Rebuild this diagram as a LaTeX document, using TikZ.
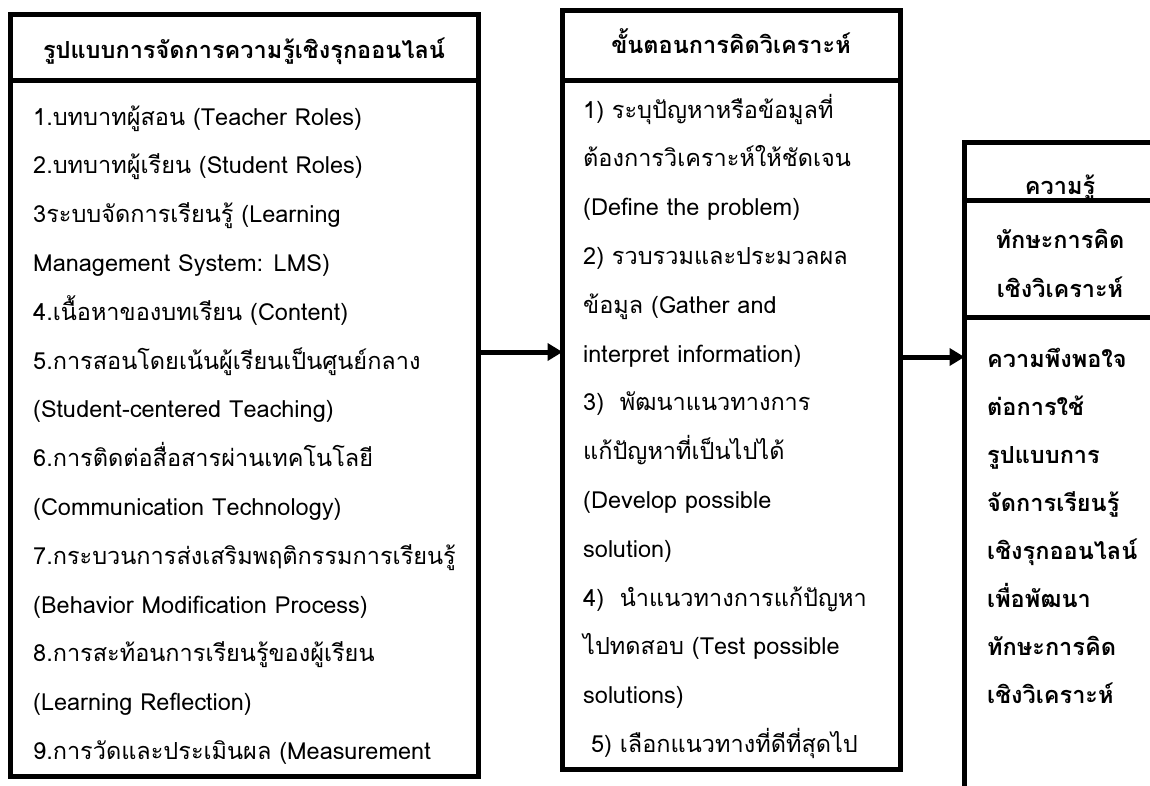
\documentclass[tikz,border=0pt]{standalone}
\usepackage{fontspec}
\setmainfont[Script=Thai]{Loma}
\usetikzlibrary{arrows.meta}

\begin{document}
\begin{tikzpicture}[x=1pt,y=-1pt,
    frame/.style={draw,line width=5pt,inner sep=0pt,outer sep=0pt,anchor=north west},
    txt/.style={anchor=base west,inner sep=0pt,font=\fontsize{23.5}{28}\selectfont},
    hd/.style={anchor=base,inner sep=0pt,font=\fontsize{23.5}{28}\selectfont\bfseries},
    arr/.style={line width=5pt,-{Triangle[length=15pt,width=17pt]}}]
  \useasboundingbox (0,0) rectangle (1150,785);

  % left box
  \node[frame,minimum width=468pt,minimum height=66pt] (lhead) at (10,14.5) {};
  \node[frame,minimum width=468pt,minimum height=696pt] (lbody) at (10,80.5) {};
  \node[hd] (ltitle) at (244,58) {รูปแบบการจัดการความรู้เชิงรุกออนไลน์};
  \foreach \t [count=\i from 0] in {
      {1.บทบาทผู้สอน (Teacher Roles)},
      {2.บทบาทผู้เรียน (Student Roles)},
      {3ระบบจัดการเรียนรู้ (Learning},
      {Management System: LMS)},
      {4.เนื้อหาของบทเรียน (Content)},
      {5.การสอนโดยเน้นผู้เรียนเป็นศูนย์กลาง},
      {(Student-centered Teaching)},
      {6.การติดต่อสื่อสารผ่านเทคโนโลยี},
      {(Communication Technology)},
      {7.กระบวนการส่งเสริมพฤติกรรมการเรียนรู้},
      {(Behavior Modification Process)},
      {8.การสะท้อนการเรียนรู้ของผู้เรียน},
      {(Learning Reflection)},
      {9.การวัดและประเมินผล (Measurement}}{
    \node[txt] (l\i) at (33,125+48.8*\i) {\t};
  }

  % middle box
  \node[frame,minimum width=337.5pt,minimum height=70pt] (mhead) at (562.5,10) {};
  \node[frame,minimum width=337.5pt,minimum height=689pt] (mbody) at (562.5,80) {};
  \node[hd] (mtitle) at (731,53) {ขั้นตอนการคิดวิเคราะห์};
  \foreach \t [count=\i from 0] in {
      {1) ระบุปัญหาหรือข้อมูลที่},
      {ต้องการวิเคราะห์ให้ชัดเจน},
      {(Define the problem)},
      {2) รวบรวมและประมวลผล},
      {ข้อมูล (Gather and},
      {interpret information)},
      {3)~~พัฒนาแนวทางการ},
      {แก้ปัญหาที่เป็นไปได้},
      {(Develop possible},
      {solution)},
      {4)~~นำแนวทางการแก้ปัญหา},
      {ไปทดสอบ (Test possible},
      {solutions)},
      {~5) เลือกแนวทางที่ดีที่สุดไป}}{
    \node[txt] (m\i) at (583,118+48.8*\i) {\t};
  }

  % right box
  \node[frame,minimum width=193pt,minimum height=58pt] (rhead) at (964.5,142) {};
  \node[frame,minimum width=193pt,minimum height=117pt] (rmid) at (964.5,200) {};
  \node[frame,minimum width=193pt,minimum height=493pt] (rbody) at (964.5,317) {};
  \node[hd] (rtitle) at (1060,194) {ความรู้};
  \node[hd] (rskill1) at (1060,248) {ทักษะการคิด};
  \node[hd] (rskill2) at (1060,297) {เชิงวิเคราะห์};
  \foreach \t [count=\i from 0] in {
      ความพึงพอใจ, ต่อการใช้, รูปแบบการ, จัดการเรียนรู้,
      เชิงรุกออนไลน์, เพื่อพัฒนา, ทักษะการคิด, เชิงวิเคราะห์}{
    \node[txt,font=\fontsize{23.5}{28}\selectfont\bfseries] (r\i) at (987,367+48*\i) {\t};
  }

  % arrows
  \coordinate (y1) at (0,352);
  \coordinate (y2) at (0,357);
  \draw[arr] (lbody.east |- y1) -- (mbody.west |- y1);
  \draw[arr] (mbody.east |- y2) -- (rbody.west |- y2);
\end{tikzpicture}
\end{document}
